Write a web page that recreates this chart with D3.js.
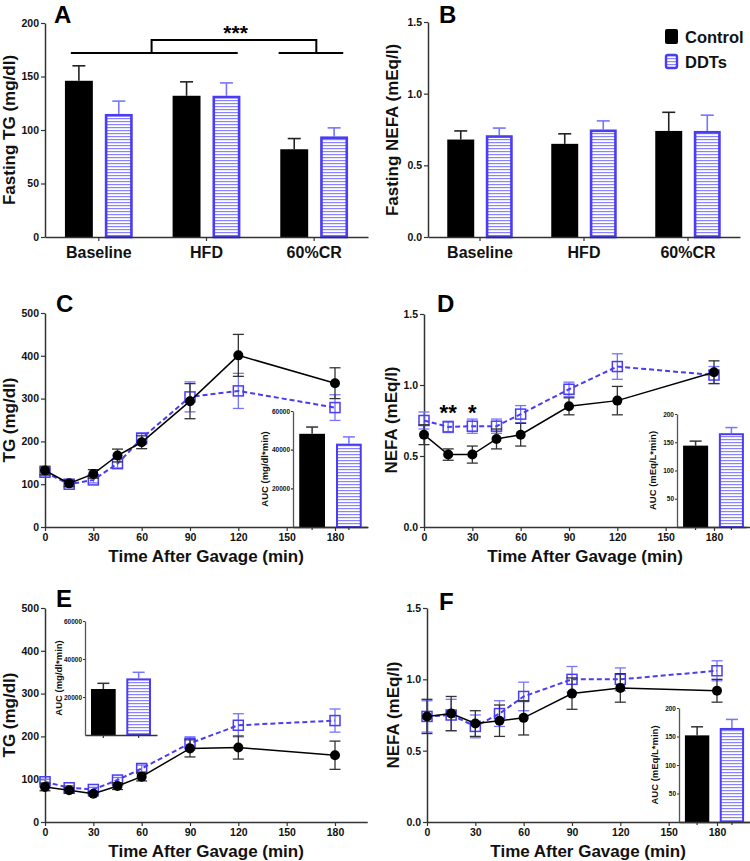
<!DOCTYPE html>
<html><head><meta charset="utf-8">
<script src="https://cdn.jsdelivr.net/npm/d3@7"></script>
<style>
body{margin:0;background:#fff;}
text{font-family:"Liberation Sans",Arial,Helvetica,sans-serif;}
</style></head>
<body><div id="chart"></div>
<script>
// ---------------- DATA ----------------
const barCats = ["Baseline", "HFD", "60%CR"];
const groups = ["Control", "DDTs"];

// Panel A: Fasting TG (mg/dl)
const aCtrl = [146, 132, 82];
const aCtrlErr = [14, 13, 10];
const aDDT = [115, 132, 94];
const aDDTErr = [12, 12, 8];
const aTicks = [0, 50, 100, 150, 200];

// Panel B: Fasting NEFA (mEq/l)
const bCtrl = [0.68, 0.65, 0.74];
const bCtrlErr = [0.06, 0.07, 0.13];
const bDDT = [0.71, 0.75, 0.74];
const bDDTErr = [0.05, 0.06, 0.11];
const bTicks = [0, 0.5, 1.0, 1.5];

const times = [0, 15, 30, 45, 60, 90, 120, 180];
const timeTicks = [0, 30, 60, 90, 120, 150, 180];
const tgTicks = [0, 100, 200, 300, 400, 500];
const nefaTicks = [0, 0.5, 1.0, 1.5];

// Panel C: TG after gavage
const cCtrl = [132, 102, 124, 167, 198, 294, 401, 336];
const cCtrlErr = [10, 7, 10, 15, 15, 41, 49, 36];
const cDDT = [128, 100, 110, 148, 207, 304, 318, 279];
const cDDTErr = [8, 7, 7, 10, 13, 35, 41, 30];
const cAUC = [48200, 43100];
const cAUCErr = [3500, 3500];

// Panel D: NEFA after gavage
const dCtrl = [0.65, 0.51, 0.51, 0.62, 0.65, 0.85, 0.89, 1.09];
const dCtrlErr = [0.07, 0.04, 0.06, 0.07, 0.08, 0.06, 0.10, 0.08];
const dDDT = [0.75, 0.705, 0.71, 0.71, 0.795, 0.97, 1.13, 1.07];
const dDDTErr = [0.06, 0.04, 0.05, 0.05, 0.06, 0.05, 0.09, 0.06];
const dAUC = [144, 166];
const dAUCErr = [8, 10];

// Panel E: TG after gavage
const eCtrl = [82, 74, 66, 84, 106, 172, 174, 156];
const eCtrlErr = [9, 7, 5, 8, 10, 20, 27, 33];
const eDDT = [94, 80, 76, 98, 125, 184, 226, 237];
const eDDTErr = [6, 5, 5, 6, 8, 15, 27, 27];
const eAUC = [24200, 29800];
const eAUCErr = [3000, 3200];

// Panel F: NEFA after gavage
const fCtrl = [0.74, 0.76, 0.69, 0.71, 0.73, 0.90, 0.94, 0.92];
const fCtrlErr = [0.12, 0.12, 0.09, 0.11, 0.12, 0.11, 0.10, 0.08];
const fDDT = [0.74, 0.75, 0.67, 0.76, 0.88, 1.00, 1.00, 1.06];
const fDDTErr = [0.11, 0.11, 0.08, 0.09, 0.10, 0.09, 0.08, 0.07];
const fAUC = [152, 165];
const fAUCErr = [15, 15];

const aucTGTicks = [20000, 40000, 60000];
const aucNefaTicks = [50, 100, 150, 200];

// ---------------- STYLE ----------------
const BLUE = "#4a3cf2";
const BLUE_ERR = "#7575ff";
const AXIS = "#333";

const svg = d3.select("#chart").append("svg")
  .attr("width", 750).attr("height", 861);

const defs = svg.append("defs");
const pat = defs.append("pattern").attr("id", "stripes")
  .attr("patternUnits", "userSpaceOnUse").attr("width", 6).attr("height", 3);
pat.append("rect").attr("width", 6).attr("height", 3).attr("fill", "#fff");
pat.append("rect").attr("y", 1).attr("width", 6).attr("height", 1.2).attr("fill", "#8a83ff");

function styleAxis(g, fs) {
  g.select(".domain").attr("stroke", AXIS).attr("stroke-width", 1.5);
  g.selectAll(".tick line").attr("stroke", AXIS).attr("stroke-width", 1.2);
  g.selectAll(".tick text").attr("font-size", fs).attr("font-weight", "bold")
    .attr("fill", "#111").attr("font-family", '"Liberation Sans",Arial,sans-serif');
}

function letter(txt, x, y) {
  svg.append("text").attr("x", x).attr("y", y).text(txt)
    .attr("font-size", 24).attr("font-weight", "bold").attr("fill", "#000");
}

function yTitle(txt, x, y) {
  svg.append("text").attr("transform", `translate(${x},${y}) rotate(-90)`)
    .attr("text-anchor", "middle").attr("font-size", 17).attr("font-weight", "bold")
    .attr("fill", "#111").text(txt);
}

function errBar(g, cx, y1, y2, color, cap, w) {
  g.append("line").attr("x1", cx).attr("x2", cx).attr("y1", y1).attr("y2", y2)
    .attr("stroke", color).attr("stroke-width", w || 1.5);
  g.append("line").attr("x1", cx - cap / 2).attr("x2", cx + cap / 2).attr("y1", y2).attr("y2", y2)
    .attr("stroke", color).attr("stroke-width", w || 1.5);
}

// ---------------- BAR PANELS ----------------
function barPanel(o) {
  const g = svg.append("g");
  const x = d3.scaleBand().domain(barCats).range([o.x0, o.x1]).paddingInner(0).paddingOuter(0);
  const xi = d3.scaleBand().domain(groups).range([0, x.bandwidth()]).paddingInner(0.3).paddingOuter(0.5);
  const y = d3.scaleLinear().domain([0, o.max]).range([o.yBot, o.yTop]);
  const data = [];
  barCats.forEach((c, i) => {
    data.push({ c, grp: "Control", v: o.ctrl[i], e: o.ctrlErr[i] });
    data.push({ c, grp: "DDTs", v: o.ddt[i], e: o.ddtErr[i] });
  });
  data.forEach(d => {
    const cx = x(d.c) + xi(d.grp) + xi.bandwidth() / 2;
    errBar(g, cx, y(d.v), y(d.v + d.e), d.grp === "Control" ? "#222" : BLUE_ERR, 13, 1.6);
  });
  data.forEach(d => {
    const bx = x(d.c) + xi(d.grp);
    if (d.grp === "Control") {
      g.append("rect").attr("x", bx).attr("y", y(d.v)).attr("width", xi.bandwidth())
        .attr("height", y(0) - y(d.v)).attr("fill", "#000");
    } else {
      g.append("rect").attr("x", bx + 1.3).attr("y", y(d.v) + 1.3).attr("width", xi.bandwidth() - 2.6)
        .attr("height", y(0) - y(d.v) - 1.3).attr("fill", "url(#stripes)")
        .attr("stroke", BLUE).attr("stroke-width", 2.6);
    }
  });
  const ya = g.append("g").attr("transform", `translate(${o.x0},0)`)
    .call(d3.axisLeft(y).tickValues(o.ticks).tickFormat(o.fmt).tickSize(4).tickSizeOuter(0).tickPadding(2));
  styleAxis(ya, 10.5);
  const xa = g.append("g").attr("transform", `translate(0,${o.yBot})`)
    .call(d3.axisBottom(x).tickSize(4).tickSizeOuter(0).tickPadding(6));
  styleAxis(xa, 16);
  return { x, xi, y, g };
}

const A = barPanel({ x0: 45, x1: 368, yTop: 23, yBot: 237, max: 200, ticks: aTicks, fmt: d3.format("d"),
  ctrl: aCtrl, ctrlErr: aCtrlErr, ddt: aDDT, ddtErr: aDDTErr });
yTitle("Fasting TG (mg/dl)", 15, 130);
letter("A", 54, 23);

// significance bracket (in category units / data units)
{
  const u = d3.scaleLinear().domain([0, 3]).range([45, 368]);
  const y = A.y;
  const g = svg.append("g").attr("stroke", "#000").attr("stroke-width", 2).attr("fill", "none");
  g.append("line").attr("x1", u(0.24)).attr("x2", u(1.79)).attr("y1", y(172)).attr("y2", y(172));
  g.append("line").attr("x1", u(2.17)).attr("x2", u(2.77)).attr("y1", y(172)).attr("y2", y(172));
  g.append("path").attr("d", `M${u(0.99)},${y(172)}V${y(184)}H${u(2.52)}V${y(172)}`);
  svg.append("text").attr("x", u(1.77)).attr("y", y(184) + 0)
    .attr("text-anchor", "middle").attr("font-size", 21).attr("font-weight", "bold").text("***");
}

const B = barPanel({ x0: 428, x1: 740, yTop: 22, yBot: 237, max: 1.5, ticks: bTicks, fmt: d3.format(".1f"),
  ctrl: bCtrl, ctrlErr: bCtrlErr, ddt: bDDT, ddtErr: bDDTErr });
yTitle("Fasting NEFA (mEq/l)", 398, 130);
letter("B", 439, 23);

// legend
{
  const g = svg.append("g");
  const items = [{ k: "Control", y: 29 }, { k: "DDTs", y: 54 }];
  items.forEach(it => {
    if (it.k === "Control") {
      g.append("rect").attr("x", 665).attr("y", it.y).attr("width", 13).attr("height", 15)
        .attr("rx", 2).attr("fill", "#000");
    } else {
      g.append("rect").attr("x", 666).attr("y", it.y + 1).attr("width", 11).attr("height", 13)
        .attr("rx", 2).attr("fill", "url(#stripes)").attr("stroke", BLUE).attr("stroke-width", 2.4);
    }
    g.append("text").attr("x", 685).attr("y", it.y + 14).text(it.k)
      .attr("font-size", 16.5).attr("font-weight", "bold").attr("fill", "#111");
  });
}

// ---------------- LINE PANELS ----------------
function linePanel(o) {
  const g = svg.append("g");
  const x = d3.scaleLinear().domain([0, 200]).range([o.x0, o.x0 + (o.x180 - o.x0) * 200 / 180]);
  const y = d3.scaleLinear().domain([0, o.max]).range([o.yBot, o.yTop]);
  const ctrl = times.map((t, i) => ({ t, v: o.ctrl[i], e: o.ctrlErr[i] }));
  const ddt = times.map((t, i) => ({ t, v: o.ddt[i], e: o.ddtErr[i] }));

  const ya = g.append("g").attr("transform", `translate(${o.x0},0)`)
    .call(d3.axisLeft(y).tickValues(o.ticks).tickFormat(o.fmt).tickSize(4).tickSizeOuter(0).tickPadding(2));
  styleAxis(ya, 10.5);
  const xa = g.append("g").attr("transform", `translate(0,${o.yBot})`)
    .call(d3.axisBottom(x).tickValues(timeTicks).tickFormat(d3.format("d")).tickSize(4).tickSizeOuter(0).tickPadding(3));
  styleAxis(xa, 10.5);

  svg.append("text").attr("x", (x.range()[0] + x.range()[1]) / 2).attr("y", o.yBot + 35)
    .attr("text-anchor", "middle").attr("font-size", 17).attr("font-weight", "bold")
    .attr("fill", "#111").text("Time After Gavage (min)");

  // inset
  if (o.inset) inset(o.inset);

  const line = d3.line().x(d => x(d.t)).y(d => y(d.v));
  // DDTs
  ddt.forEach(d => {
    const gg = g.append("g");
    errBar(gg, x(d.t), y(d.v - d.e), y(d.v + d.e), BLUE_ERR, 11, 1.3);
    gg.append("line").attr("x1", x(d.t) - 5.5).attr("x2", x(d.t) + 5.5)
      .attr("y1", y(d.v - d.e)).attr("y2", y(d.v - d.e)).attr("stroke", BLUE_ERR).attr("stroke-width", 1.3);
  });
  g.append("path").datum(ddt).attr("d", line).attr("fill", "none")
    .attr("stroke", BLUE).attr("stroke-width", 2).attr("stroke-dasharray", "5,3");
  g.selectAll(null).data(ddt).join("rect")
    .attr("x", d => x(d.t) - 5).attr("y", d => y(d.v) - 5).attr("width", 10).attr("height", 10)
    .attr("fill", "none").attr("stroke", BLUE).attr("stroke-width", 1.5);
  // Control
  ctrl.forEach(d => {
    const gg = g.append("g");
    errBar(gg, x(d.t), y(d.v - d.e), y(d.v + d.e), "#333", 11, 1.3);
    gg.append("line").attr("x1", x(d.t) - 5.5).attr("x2", x(d.t) + 5.5)
      .attr("y1", y(d.v - d.e)).attr("y2", y(d.v - d.e)).attr("stroke", "#333").attr("stroke-width", 1.3);
  });
  g.append("path").datum(ctrl).attr("d", line).attr("fill", "none")
    .attr("stroke", "#000").attr("stroke-width", 1.5);
  g.selectAll(null).data(ctrl).join("circle")
    .attr("cx", d => x(d.t)).attr("cy", d => y(d.v)).attr("r", 5).attr("fill", "#000");

  return { x, y, g };
}

function inset(o) {
  const g = svg.append("g");
  const x = d3.scaleBand().domain(groups).range([o.x0, o.x1]).paddingInner(0.3).paddingOuter(0.17);
  const y = d3.scaleLinear().domain([0, o.max]).range([o.yBot, o.yTop]);
  groups.forEach((k, i) => {
    const cx = x(k) + x.bandwidth() / 2;
    errBar(g, cx, y(o.vals[i]), y(o.vals[i] + o.errs[i]), i === 0 ? "#333" : BLUE_ERR, 12, 1.5);
  });
  groups.forEach((k, i) => {
    if (i === 0) {
      g.append("rect").attr("x", x(k)).attr("y", y(o.vals[i])).attr("width", x.bandwidth())
        .attr("height", y(0) - y(o.vals[i])).attr("fill", "#000");
    } else {
      g.append("rect").attr("x", x(k) + 1).attr("y", y(o.vals[i]) + 1).attr("width", x.bandwidth() - 2)
        .attr("height", y(0) - y(o.vals[i]) - 1).attr("fill", "url(#stripes)")
        .attr("stroke", BLUE).attr("stroke-width", 2);
    }
  });
  const ya = g.append("g").attr("transform", `translate(${o.x0},0)`)
    .call(d3.axisLeft(y).tickValues(o.ticks).tickFormat(d3.format("d")).tickSize(2).tickSizeOuter(0).tickPadding(1));
  styleAxis(ya, 6.5);
  ya.select(".domain").attr("stroke-width", 1.3).attr("stroke", "#555");
  const xa = g.append("g").attr("transform", `translate(0,${o.yBot})`)
    .call(d3.axisBottom(x).tickSize(3).tickSizeOuter(0).tickFormat(""));
  styleAxis(xa, 6);
  xa.select(".domain").attr("stroke-width", 1.3);
  g.append("text").attr("transform", `translate(${o.x0 - o.labOff},${(o.yTop + o.yBot) / 2}) rotate(-90)`)
    .attr("text-anchor", "middle").attr("font-size", 9.5).attr("font-weight", "bold")
    .attr("fill", "#111").text(o.label);
}

linePanel({ x0: 45, x180: 335, yTop: 313, yBot: 527, max: 500, ticks: tgTicks, fmt: d3.format("d"),
  ctrl: cCtrl, ctrlErr: cCtrlErr, ddt: cDDT, ddtErr: cDDTErr,
  inset: { x0: 293, x1: 368, yTop: 411, yBot: 527, max: 60000, ticks: aucTGTicks,
    vals: cAUC, errs: cAUCErr, label: "AUC (mg/dl*min)", labOff: 25 } });
yTitle("TG (mg/dl)", 15, 420);
letter("C", 56, 312);

const Dp = linePanel({ x0: 424, x180: 714, yTop: 314, yBot: 527, max: 1.5, ticks: nefaTicks, fmt: d3.format(".1f"),
  ctrl: dCtrl, ctrlErr: dCtrlErr, ddt: dDDT, ddtErr: dDDTErr,
  inset: { x0: 677, x1: 750, yTop: 414, yBot: 527, max: 200, ticks: aucNefaTicks,
    vals: dAUC, errs: dAUCErr, label: "AUC (mEq/L*min)", labOff: 21 } });
yTitle("NEFA (mEq/l)", 397, 420);
letter("D", 437, 312);
svg.append("text").attr("x", Dp.x(15)).attr("y", Dp.y(0.755)).attr("text-anchor", "middle")
  .attr("font-size", 22).attr("font-weight", "bold").text("**");
svg.append("text").attr("x", Dp.x(30)).attr("y", Dp.y(0.755)).attr("text-anchor", "middle")
  .attr("font-size", 22).attr("font-weight", "bold").text("*");

linePanel({ x0: 45, x180: 335, yTop: 608, yBot: 822, max: 500, ticks: tgTicks, fmt: d3.format("d"),
  ctrl: eCtrl, ctrlErr: eCtrlErr, ddt: eDDT, ddtErr: eDDTErr,
  inset: { x0: 85, x1: 157, yTop: 621, yBot: 735, max: 60000, ticks: aucTGTicks,
    vals: eAUC, errs: eAUCErr, label: "AUC (mg/dl*min)", labOff: 23 } });
yTitle("TG (mg/dl)", 15, 715);
letter("E", 56, 607);

linePanel({ x0: 427, x180: 717, yTop: 608, yBot: 822, max: 1.5, ticks: nefaTicks, fmt: d3.format(".1f"),
  ctrl: fCtrl, ctrlErr: fCtrlErr, ddt: fDDT, ddtErr: fDDTErr,
  inset: { x0: 679, x1: 750, yTop: 708, yBot: 822, max: 200, ticks: aucNefaTicks,
    vals: fAUC, errs: fAUCErr, label: "AUC (mEq/L*min)", labOff: 21 } });
yTitle("NEFA (mEq/l)", 399, 715);
letter("F", 439, 610);
</script>
</body></html>
